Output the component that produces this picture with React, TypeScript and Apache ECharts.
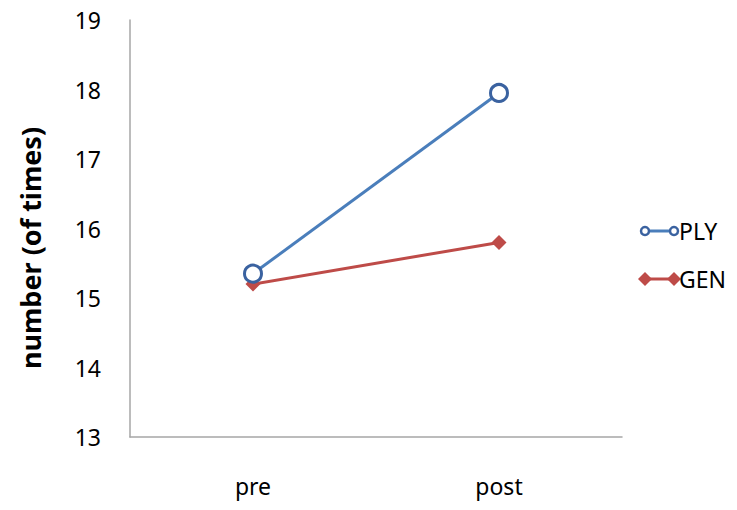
import React, { useEffect, useRef } from "react";
import * as echarts from "echarts";

const categories = ["pre", "post"];
const plyValues = [15.35, 17.95];
const genValues = [15.2, 15.8];
const seriesNames = ["PLY", "GEN"];
const yTicks = { min: 13, max: 19, interval: 1 };

const FONT = "'Noto Sans', 'Open Sans', sans-serif";
const BLUE = "#4a7ebb";
const BLUE_DARK = "#3a62a0";
const RED = "#be4b48";

export default function App() {
  const ref = useRef<HTMLDivElement>(null);
  useEffect(() => {
    const chart = echarts.init(ref.current!, null, { renderer: "svg" });
    chart.setOption({
      animation: false,
      backgroundColor: "#ffffff",
      grid: { left: 130, right: 115, top: 20, bottom: 73 },
      xAxis: {
        type: "category",
        data: categories,
        boundaryGap: true,
        axisLine: { lineStyle: { color: "#a6a6a6", width: 1.5 } },
        axisTick: { show: false },
        axisLabel: { color: "#000", fontSize: 23, fontFamily: FONT, margin: 37 },
      },
      yAxis: {
        type: "value",
        min: yTicks.min,
        max: yTicks.max,
        interval: yTicks.interval,
        splitLine: { show: false },
        axisLine: { show: true, lineStyle: { color: "#a6a6a6", width: 1.5 } },
        axisTick: { show: false },
        axisLabel: { color: "#000", fontSize: 23, fontFamily: FONT, margin: 29 },
      },
      series: [
        {
          name: seriesNames[0],
          type: "line",
          data: plyValues,
          symbol: "circle",
          symbolSize: 17,
          lineStyle: { color: BLUE, width: 3 },
          itemStyle: { color: "#ffffff", borderColor: BLUE_DARK, borderWidth: 3 },
          z: 3,
        },
        {
          name: seriesNames[1],
          type: "line",
          data: genValues,
          symbol: "diamond",
          symbolSize: 15,
          lineStyle: { color: RED, width: 3 },
          itemStyle: { color: RED },
          z: 2,
        },
      ],
      graphic: [
        {
          type: "text",
          x: 30,
          y: 248,
          rotation: Math.PI / 2,
          style: {
            text: "number (of times)",
            fontSize: 27,
            fontWeight: "bold",
            fontFamily: FONT,
            fill: "#000",
            align: "center",
            verticalAlign: "middle",
          },
        },
        // legend PLY
        { type: "line", shape: { x1: 645, y1: 231, x2: 674, y2: 231 }, style: { stroke: BLUE, lineWidth: 3 } },
        { type: "circle", shape: { cx: 645, cy: 231, r: 4 }, style: { fill: "#fff", stroke: BLUE_DARK, lineWidth: 2.5 } },
        { type: "circle", shape: { cx: 674, cy: 231, r: 4 }, style: { fill: "#fff", stroke: BLUE_DARK, lineWidth: 2.5 } },
        {
          type: "text",
          x: 679,
          y: 231,
          style: { text: seriesNames[0], fontSize: 23, fontFamily: FONT, fill: "#000", verticalAlign: "middle" },
        },
        // legend GEN
        { type: "line", shape: { x1: 645, y1: 279, x2: 674, y2: 279 }, style: { stroke: RED, lineWidth: 3 } },
        { type: "polygon", shape: { points: [[645, 272], [652, 279], [645, 286], [638, 279]] }, style: { fill: RED } },
        { type: "polygon", shape: { points: [[674, 272], [681, 279], [674, 286], [667, 279]] }, style: { fill: RED } },
        {
          type: "text",
          x: 679,
          y: 279,
          style: { text: seriesNames[1], fontSize: 23, fontFamily: FONT, fill: "#000", verticalAlign: "middle" },
        },
      ],
    });
    return () => chart.dispose();
  }, []);
  return <div ref={ref} style={{ width: 737, height: 510, margin: -8 }} />;
}
